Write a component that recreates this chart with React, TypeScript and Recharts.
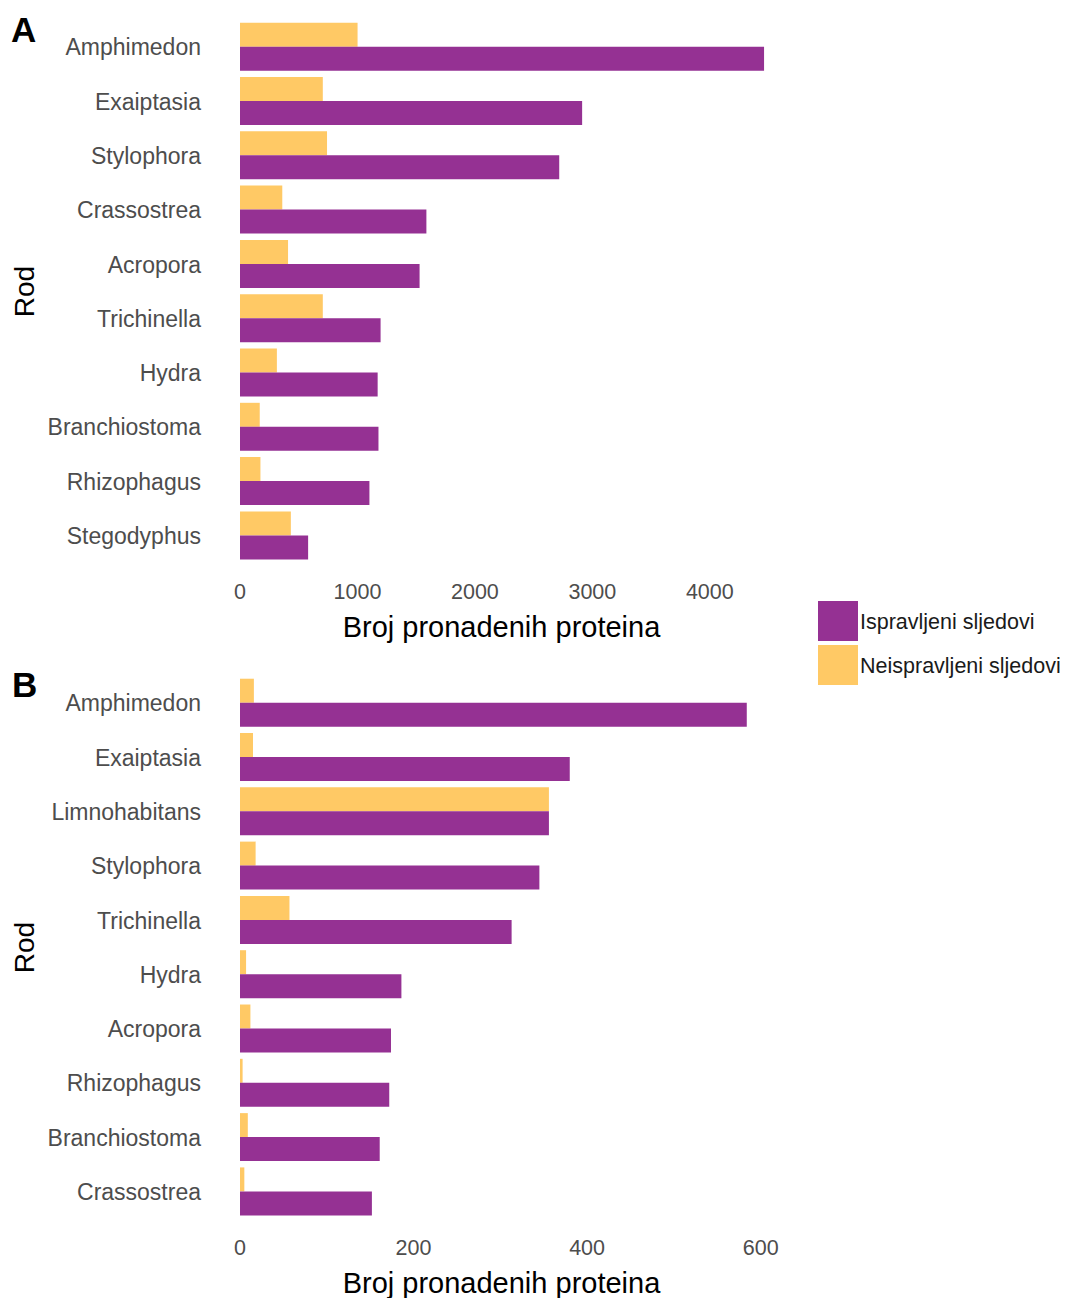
import React from 'react';
import { BarChart, Bar, XAxis, YAxis, Label } from 'recharts';

// Panel A
const generaA = ['Amphimedon', 'Exaiptasia', 'Stylophora', 'Crassostrea', 'Acropora', 'Trichinella', 'Hydra', 'Branchiostoma', 'Rhizophagus', 'Stegodyphus'];
const correctedA = [4462, 2913, 2718, 1587, 1529, 1197, 1172, 1179, 1102, 580];
const uncorrectedA = [1001, 705, 741, 360, 409, 705, 314, 168, 174, 433];
const ticksA = [0, 1000, 2000, 3000, 4000];

// Panel B
const generaB = ['Amphimedon', 'Exaiptasia', 'Limnohabitans', 'Stylophora', 'Trichinella', 'Hydra', 'Acropora', 'Rhizophagus', 'Branchiostoma', 'Crassostrea'];
const correctedB = [584, 380, 356, 345, 313, 186, 174, 172, 161, 152];
const uncorrectedB = [16, 15, 356, 18, 57, 7, 12, 3, 9, 5];
const ticksB = [0, 200, 400, 600];

const seriesNames = ['Ispravljeni sljedovi', 'Neispravljeni sljedovi'];
const PURPLE = '#953193';
const YELLOW = '#ffc965';
const FONT = '"Liberation Sans", Arial, sans-serif';

const dataA = generaA.map((g, i) => ({ genus: g, corrected: correctedA[i], uncorrected: uncorrectedA[i] }));
const dataB = generaB.map((g, i) => ({ genus: g, corrected: correctedB[i], uncorrected: uncorrectedB[i] }));

const XTitle = (props: any) => {
  const vb = props.viewBox || { x: 0, y: 0, width: 0 };
  return (
    <text x={vb.x + vb.width / 2 - 1} y={vb.y + 58.5} textAnchor="middle" dominantBaseline="central" fontSize={29} fill="#000" fontFamily={FONT}>
      Broj pronadenih proteina
    </text>
  );
};

const YTitle = (props: any) => {
  const vb = props.viewBox || { x: 0, y: 0, height: 0 };
  const cx = vb.x + 24.5;
  const cy = vb.y + vb.height / 2;
  return (
    <text x={cx} y={cy} transform={`rotate(-90, ${cx}, ${cy})`} textAnchor="middle" dominantBaseline="central" fontSize={28} fill="#000" fontFamily={FONT}>
      Rod
    </text>
  );
};

function Panel({ data, domain, ticks, height, xHeight }: any) {
  return (
    <BarChart
      width={800}
      height={height}
      data={data}
      layout="vertical"
      margin={{ top: 15, right: 35, bottom: 0, left: 0 }}
      barCategoryGap="5%"
      barGap={0}
    >
      <XAxis
        type="number"
        domain={domain}
        ticks={ticks}
        allowDataOverflow
        tickLine={false}
        axisLine={false}
        tickSize={6}
        tickMargin={10}
        height={xHeight}
        tick={{ fontSize: 21.5, fill: '#4d4d4d', fontFamily: FONT }}
      >
        <Label content={<XTitle />} />
      </XAxis>
      <YAxis
        type="category"
        dataKey="genus"
        width={240}
        interval={0}
        tickLine={false}
        axisLine={false}
        tickSize={6}
        tickMargin={33}
        padding={{ top: 5, bottom: 5 }}
        tick={{ fontSize: 23, fill: '#4d4d4d', fontFamily: FONT }}
      >
        <Label content={<YTitle />} />
      </YAxis>
      <Bar dataKey="uncorrected" name={seriesNames[1]} fill={YELLOW} isAnimationActive={false} />
      <Bar dataKey="corrected" name={seriesNames[0]} fill={PURPLE} isAnimationActive={false} />
    </BarChart>
  );
}

export default function App() {
  const panelLabel: React.CSSProperties = {
    position: 'absolute',
    fontFamily: FONT,
    fontWeight: 'bold',
    fontSize: 35,
    lineHeight: 1,
    color: '#000',
  };
  const legendText: React.CSSProperties = {
    position: 'absolute',
    left: 860,
    fontFamily: FONT,
    fontSize: 21.5,
    lineHeight: '40px',
    color: '#1a1a1a',
    whiteSpace: 'nowrap',
  };
  return (
    <div style={{ position: 'absolute', left: 0, top: 0, width: 1066, height: 1298, overflow: 'hidden', background: '#fff' }}>
      <div style={{ position: 'absolute', left: 0, top: 0 }}>
        <Panel data={dataA} domain={[0, 4470]} ticks={ticksA} height={648} xHeight={80} />
      </div>
      <div style={{ position: 'absolute', left: 0, top: 656 }}>
        <Panel data={dataB} domain={[0, 605]} ticks={ticksB} height={642} xHeight={74} />
      </div>
      <div style={{ ...panelLabel, left: 11, top: 12 }}>A</div>
      <div style={{ ...panelLabel, left: 12, top: 667 }}>B</div>
      <div style={{ position: 'absolute', left: 818, top: 601, width: 40, height: 40, background: PURPLE }} />
      <div style={{ position: 'absolute', left: 818, top: 645, width: 40, height: 40, background: YELLOW }} />
      <div style={{ ...legendText, top: 602 }}>{seriesNames[0]}</div>
      <div style={{ ...legendText, top: 646 }}>{seriesNames[1]}</div>
    </div>
  );
}
